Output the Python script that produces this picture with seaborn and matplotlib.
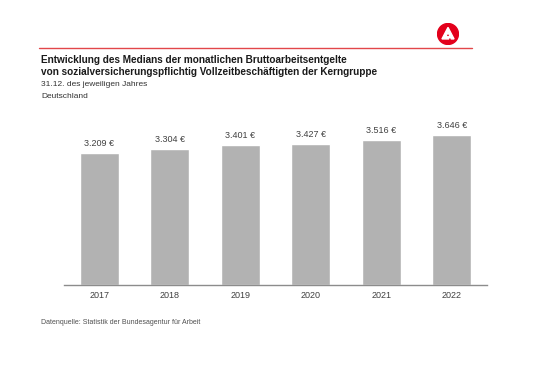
import matplotlib
matplotlib.use("Agg")
import matplotlib.pyplot as plt
import seaborn as sns
import pandas as pd
from matplotlib.patches import Circle, Polygon
from matplotlib.lines import Line2D

# Daten
jahre = ["2017", "2018", "2019", "2020", "2021", "2022"]
median_entgelt = [3209, 3304, 3401, 3427, 3516, 3646]
wert_labels = ["3.209 €", "3.304 €", "3.401 €", "3.427 €", "3.516 €", "3.646 €"]

df = pd.DataFrame({"jahr": jahre, "wert": median_entgelt})

sns.set_theme(style="white")
plt.rcParams["font.family"] = ["Liberation Sans", "DejaVu Sans"]

W, H = 540, 380
fig = plt.figure(figsize=(W / 100, H / 100), dpi=100)
fig.patch.set_facecolor("white")

def fx(px):
    return px / W

def fy(py):
    return 1 - py / H

# Achse: links 64px, rechts 487px, Basislinie 285px
ax_top = 120
ax = fig.add_axes([fx(64), fy(285), fx(487 - 64), (285 - ax_top) / H])

sns.barplot(data=df, x="jahr", y="wert", color="#b2b2b2", saturation=1,
            width=0.55, ax=ax)
ax.set_xlim(-0.5, 5.5)
ax.set_ylim(0, 4000)

for i, (v, lab) in enumerate(zip(median_entgelt, wert_labels)):
    ax.annotate(lab, (i, v), xytext=(0, 3.5), textcoords="offset points",
                ha="center", va="bottom", fontsize=6.5, color="#404040")

for s in ["top", "right", "left"]:
    ax.spines[s].set_visible(False)
ax.spines["bottom"].set_color("#8c8c8c")
ax.spines["bottom"].set_linewidth(1.0)
ax.set_yticks([])
ax.set_xlabel("")
ax.set_ylabel("")
ax.tick_params(axis="x", length=0, pad=4, labelsize=6.5, labelcolor="#404040")

# Kopfzeile: rote Linie und Logo
fig.add_artist(Line2D([fx(39), fx(472)], [fy(48), fy(48)], color="#e2474a",
                      linewidth=1.0, transform=fig.transFigure))
logo_ax = fig.add_axes([fx(437), fy(45), fx(22), 22 / H])
logo_ax.set_xlim(-1, 1)
logo_ax.set_ylim(-1, 1)
logo_ax.set_aspect("equal")
logo_ax.axis("off")
logo_ax.add_patch(Circle((0, 0), 0.95, color="#e3001b"))
logo_ax.add_patch(Polygon([(-0.55, -0.45), (0.0, 0.6), (0.55, -0.45), (0.3, -0.45),
                           (0.0, 0.15), (-0.2, -0.25), (0.15, -0.25), (0.05, -0.45)],
                          closed=True, color="white"))

# Texte
fig.text(fx(41), fy(60), "Entwicklung des Medians der monatlichen Bruttoarbeitsentgelte",
         fontsize=7.2, fontweight="bold", color="#1a1a1a", va="center")
fig.text(fx(41), fy(72), "von sozialversicherungspflichtig Vollzeitbeschäftigten der Kerngruppe",
         fontsize=7.2, fontweight="bold", color="#1a1a1a", va="center")
fig.text(fx(41), fy(84), "31.12. des jeweiligen Jahres", fontsize=6.0, color="#333333", va="center")
fig.text(fx(41), fy(97), "Deutschland", fontsize=6.0, color="#333333", va="center")
fig.text(fx(41), fy(322), "Datenquelle: Statistik der Bundesagentur für Arbeit",
         fontsize=5.0, color="#505050", va="center")

fig.savefig("out.png", dpi=100)
